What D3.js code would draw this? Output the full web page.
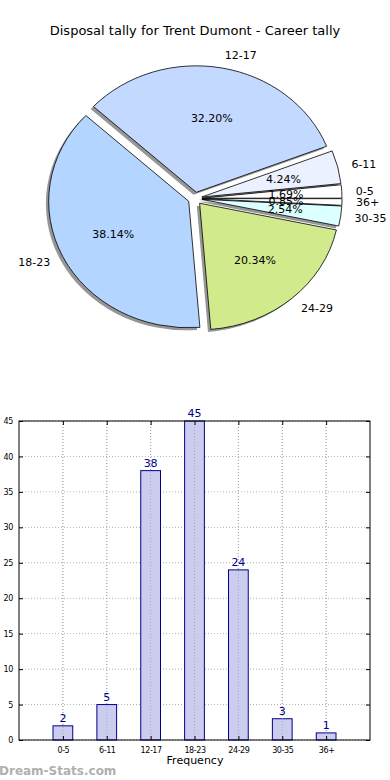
<!DOCTYPE html>
<html><head><meta charset="utf-8">
<script src="https://cdn.jsdelivr.net/npm/d3@7"></script>
<style>body{margin:0;background:#fff}svg{display:block}text{font-family:"DejaVu Sans",sans-serif}</style>
</head><body><div id="c"></div>
<script>
const title = "Disposal tally for Trent Dumont - Career tally";
const categories = ["0-5","6-11","12-17","18-23","24-29","30-35","36+"];
const values = [2,5,38,45,24,3,1];
const pieColors = ["#ffffff","#ebf1ff","#c4d9ff","#b3d5ff","#d1eb8c","#dcffff","#ffffff"];
const yTicks = [0,5,10,15,20,25,30,35,40,45];
const xLabel = "Frequency";
const watermark = "Dream-Stats.com";

const W=390,H=780;
const svg=d3.select("#c").append("svg").attr("width",W).attr("height",H);
svg.append("text").attr("x",195).attr("y",35).attr("text-anchor","middle").attr("font-size",13).text(title);

// Pie (matplotlib-style, elliptical, exploded, shadowed)
const cx=195, cy=198.5, rx=140, ry=126.5, explode=0.05;
const total=d3.sum(values);
const pie=d3.pie().sort(null).value(d=>d)
  .startAngle(Math.PI/2).endAngle(Math.PI/2-2*Math.PI);
const arcs=pie(values);
const arc=d3.arc().innerRadius(0).outerRadius(1);
const pg=svg.append("g");
function mid(a){ // matplotlib angle (ccw from east)
  const t1=Math.PI/2-a.startAngle, t2=Math.PI/2-a.endAngle; return (t1+t2)/2;}
// shadows
arcs.forEach((a,i)=>{
  const m=mid(a);
  const ox=cx+explode*rx*Math.cos(m)-0.02*rx, oy=cy-explode*ry*Math.sin(m)+0.02*ry;
  pg.append("path").attr("d",arc(a)).attr("transform",`translate(${ox},${oy}) scale(${rx},${ry})`)
    .attr("fill","#404040").attr("fill-opacity",0.55).attr("stroke","none");
});
arcs.forEach((a,i)=>{
  const m=mid(a);
  const ox=cx+explode*rx*Math.cos(m), oy=cy-explode*ry*Math.sin(m);
  pg.append("path").attr("d",arc(a)).attr("transform",`translate(${ox},${oy}) scale(${rx},${ry})`)
    .attr("fill",pieColors[i]).attr("stroke","#000").attr("stroke-width",0.8)
    .attr("vector-effect","non-scaling-stroke").attr("stroke-linejoin","round");
});
arcs.forEach((a,i)=>{
  const m=mid(a);
  const ox=cx+explode*rx*Math.cos(m), oy=cy-explode*ry*Math.sin(m);
  const lx=ox+1.1*rx*Math.cos(m), ly=oy-1.1*ry*Math.sin(m);
  pg.append("text").attr("x",lx).attr("y",ly).attr("dy","0.35em").attr("font-size",11)
    .attr("text-anchor",Math.cos(m)>0?"start":"end").text(categories[i]);
  const px=ox+0.6*rx*Math.cos(m), py=oy-0.6*ry*Math.sin(m);
  pg.append("text").attr("x",px).attr("y",py).attr("dy","0.35em").attr("font-size",11)
    .attr("text-anchor","middle").text((values[i]/total*100).toFixed(2)+"%");
});

// Bar chart
const L=19,R=370,T=421,B=740;
const x=d3.scaleLinear().domain([0,categories.length+1]).range([L,R]);
const y=d3.scaleLinear().domain([0,45]).range([B,T]);
const bg=svg.append("g");
// grid
bg.selectAll(".gy").data(yTicks).enter().append("line")
  .attr("x1",L).attr("x2",R).attr("y1",d=>y(d)).attr("y2",d=>y(d))
  .attr("stroke","#b0b0b0").attr("stroke-dasharray","1,2").attr("stroke-width",1);
bg.selectAll(".gx").data(categories).enter().append("line")
  .attr("x1",(d,i)=>x(i+1)).attr("x2",(d,i)=>x(i+1)).attr("y1",T).attr("y2",B)
  .attr("stroke","#b0b0b0").attr("stroke-dasharray","1,2").attr("stroke-width",1);
const bw=0.45*(x(1)-x(0));
bg.selectAll(".bar").data(values).enter().append("rect")
  .attr("x",(d,i)=>x(i+1)-bw/2).attr("width",bw)
  .attr("y",d=>y(d)).attr("height",d=>B-y(d))
  .attr("fill","#ccccee").attr("stroke","#00008b").attr("stroke-width",1);
// grid over bars (matplotlib draws grid above)
bg.selectAll(".gx2").data(categories).enter().append("line")
  .attr("x1",(d,i)=>x(i+1)).attr("x2",(d,i)=>x(i+1)).attr("y1",d=>T).attr("y2",B)
  .attr("stroke","#a0a0b8").attr("stroke-dasharray","1,2").attr("stroke-width",1).attr("opacity",0.8);
bg.selectAll(".val").data(values).enter().append("text")
  .attr("x",(d,i)=>x(i+1)).attr("y",d=>y(d)-4).attr("text-anchor","middle")
  .attr("font-size",11).attr("fill","#00008b").text(d=>d);
// axes
const ya=d3.axisLeft(y).tickValues(yTicks).tickSize(-4).tickPadding(6);
const yg=bg.append("g").attr("transform",`translate(${L},0)`).call(ya);
const yr=d3.axisRight(y).tickValues(yTicks).tickSize(-4).tickFormat("");
const yrg=bg.append("g").attr("transform",`translate(${R},0)`).call(yr);
const xa=d3.axisBottom(x).tickValues(categories.map((d,i)=>i+1)).tickFormat((d)=>categories[d-1]).tickSize(-4).tickPadding(7);
const xg=bg.append("g").attr("transform",`translate(0,${B})`).call(xa);
const xt=d3.axisTop(x).tickValues(categories.map((d,i)=>i+1)).tickFormat("").tickSize(-4);
const xtg=bg.append("g").attr("transform",`translate(0,${T})`).call(xt);
[yg,yrg,xg,xtg].forEach(g=>{g.select(".domain").remove();g.selectAll("text").attr("font-size",8).attr("fill","#000").attr("font-family","'DejaVu Sans',sans-serif");g.selectAll("line").attr("stroke","#000");});
xg.selectAll("text").attr("font-size",8).attr("letter-spacing","-0.4");
yg.selectAll("text").attr("letter-spacing","-0.4");
bg.append("rect").attr("x",L).attr("y",T).attr("width",R-L).attr("height",B-T)
  .attr("fill","none").attr("stroke","#000").attr("stroke-width",1);
svg.append("text").attr("x",195).attr("y",764).attr("text-anchor","middle").attr("font-size",11).text(xLabel);
svg.append("text").attr("x",-1).attr("y",775).attr("font-size",12).attr("font-weight","bold").attr("fill","#b0b0b0").text(watermark);
</script></body></html>
